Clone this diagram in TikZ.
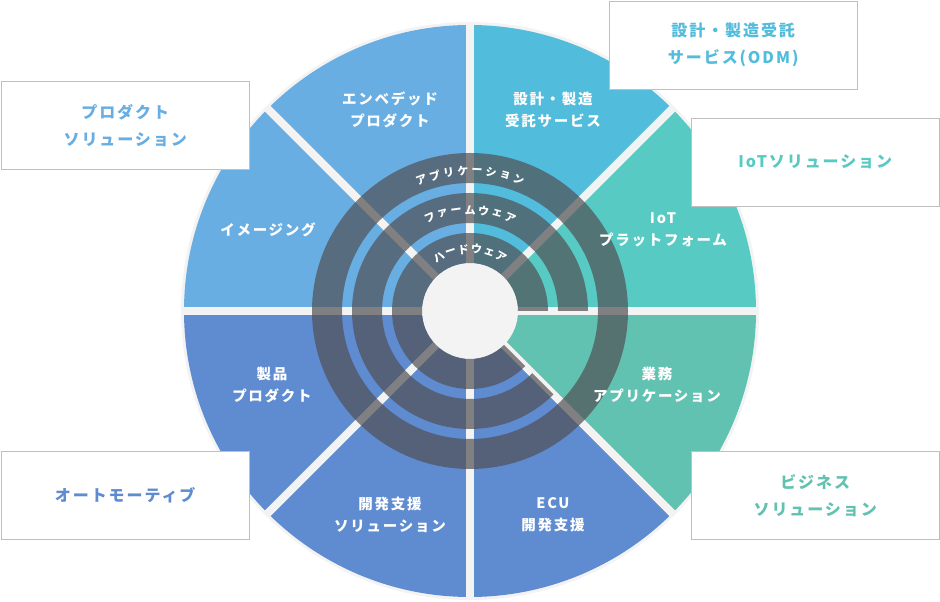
\documentclass[tikz,border=0pt]{standalone}
\usepackage{fontspec}
\setmainfont{Noto Sans CJK JP}[LetterSpace=12]
\newfontfamily\bandfont{Noto Sans CJK JP}
\begin{document}
\begin{tikzpicture}[x=1pt,y=1pt,
  lbl/.style={text=white,font=\bfseries\fontsize{14.5}{22}\selectfont,align=center},
  band/.style={text=white,font=\bandfont\bfseries\fontsize{11}{12}\selectfont,inner sep=0pt},
  callout/.style={draw=black!25,fill=white,minimum width=248,minimum height=88,align=center,font=\bfseries\fontsize{16}{27}\selectfont,anchor=north west},
  divider/.style={draw=gbg,line width=8},
  overlay/.style={fill=ovc,fill opacity=0.7}]
\definecolor{cLB}{HTML}{68AEE2}
\definecolor{cSB}{HTML}{52BCDC}
\definecolor{cTe}{HTML}{57CAC3}
\definecolor{cGr}{HTML}{62C2B2}
\definecolor{cBl}{HTML}{5F8BD0}
\definecolor{gbg}{HTML}{F3F3F3}
\definecolor{ovc}{RGB}{80,80,84}
\useasboundingbox (0,0) rectangle (940,602);
\begin{scope}[shift={(470,291)}]
  \fill[gbg] (0,0) circle[radius=289];
  \fill[cLB] (0,0) -- (90:286) arc[start angle=90,end angle=180,radius=286] -- cycle;
  \fill[cSB] (0,0) -- (45:286) arc[start angle=45,end angle=90,radius=286] -- cycle;
  \fill[cTe] (0,0) -- (0:286) arc[start angle=0,end angle=45,radius=286] -- cycle;
  \fill[cGr] (0,0) -- (-45:286) arc[start angle=-45,end angle=0,radius=286] -- cycle;
  \fill[cBl] (0,0) -- (180:286) arc[start angle=180,end angle=315,radius=286] -- cycle;
  \foreach \a in {0,45,...,315} \draw[divider] (0,0) -- (\a:287);
  \fill[gbg] (0,0) circle[radius=48];
  \fill[overlay,even odd rule] (0,0) circle[radius=158] (0,0) circle[radius=128];
  \fill[overlay] (0:118) arc[start angle=0,end angle=315,radius=118] -- (315:88) arc[start angle=315,end angle=0,radius=88] -- cycle;
  \fill[overlay] (0:78) arc[start angle=0,end angle=315,radius=78] -- (315:48) arc[start angle=315,end angle=0,radius=48] -- cycle;
  \foreach \c [count=\i] in {ア,プ,リ,ケ,ー,シ,ョ,ン}
    \node[band,rotate={(4.5-\i)*5.8}] (ap\i) at ({90+(4.5-\i)*5.8}:140) {\c};
  \foreach \c [count=\i] in {フ,ァ,ー,ム,ウ,ェ,ア}
    \node[band,rotate={(4-\i)*7.8}] (fw\i) at ({90+(4-\i)*7.8}:101) {\c};
  \foreach \c [count=\i] in {ハ,ー,ド,ウ,ェ,ア}
    \node[band,rotate={(3.5-\i)*12}] (hw\i) at ({90+(3.5-\i)*12}:62) {\c};
\end{scope}
\node[lbl] (s1) at (390,492) {エンベデッド\\プロダクト};
\node[lbl] (s2) at (553,492) {設計・製造\\受託サービス};
\node[lbl] (s3) at (663,372) {IoT\\プラットフォーム};
\node[lbl] (s4) at (657,217) {業務\\アプリケーション};
\node[lbl] (s5) at (553,87) {ECU\\開発支援};
\node[lbl] (s6) at (390,87) {開発支援\\ソリューション};
\node[lbl] (s7) at (272,217) {製品\\プロダクト};
\node[lbl] (s8) at (268,372) {イメージング};
\node[callout,text=cSB] (b1) at (609,601) {設計・製造受託\\サービス(ODM)};
\node[callout,text=cLB] (b2) at (1,521) {プロダクト\\ソリューション};
\node[callout,text=cTe] (b3) at (691,484) {IoTソリューション};
\node[callout,text=cBl] (b4) at (1,151) {オートモーティブ};
\node[callout,text=cGr] (b5) at (691,151) {ビジネス\\ソリューション};
\end{tikzpicture}
\end{document}
